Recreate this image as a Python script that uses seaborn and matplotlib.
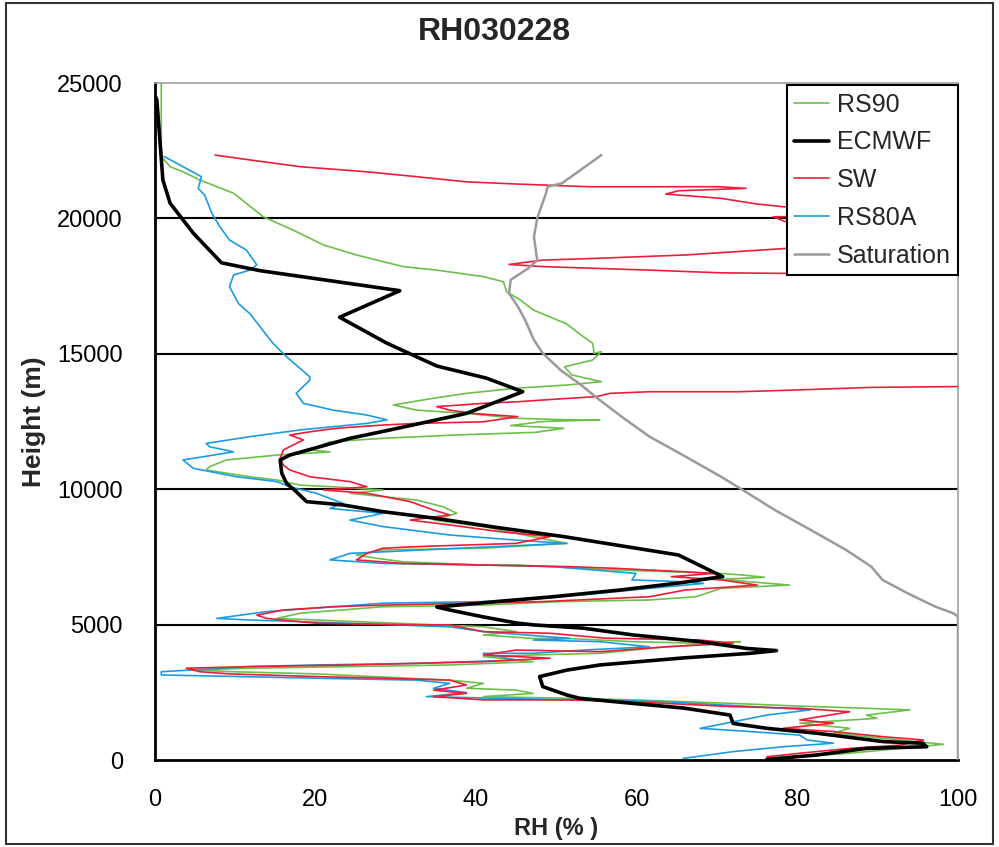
import matplotlib
matplotlib.use("Agg")
import matplotlib.pyplot as plt
import seaborn as sns
import pandas as pd
from matplotlib.patches import Rectangle
from matplotlib.lines import Line2D

# ---------------- data (RH %, height m) ----------------
rs90_rh = [0.8, 0.8, 1.0, 1.9, 3.5, 5.6, 9.8, 13.5, 17.2, 21.0, 25.1, 30.9, 35.1, 40.9, 43.4, 43.8, 45.5, 47.1,
           51.3, 52.8, 54.5, 54.7, 55.6, 54.5, 51.0, 51.9, 55.6, 51.4, 45.0, 38.8, 34.7, 29.7, 32.6, 38.8, 45.0,
           51.7, 55.4, 48.3, 44.3, 50.9, 47.4, 37.2, 28.4, 21.8, 19.3, 21.8, 15.2, 8.9, 6.8, 6.4, 11.8, 15.2,
           18.1, 22.2, 28.4, 24.3, 32.6, 35.9, 37.6, 34.7, 40.9, 45.0, 51.3, 40.9, 28.4, 25.1, 27.6, 30.9, 40.9,
           45.2, 57.2, 70.5, 73.2, 75.9, 70.5, 79.0, 70.5, 67.4, 61.6, 50.5, 40.9, 28.4, 18.1, 15.2, 20.1, 32.6,
           40.9, 45.0, 40.9, 47.1, 51.3, 59.5, 67.9, 72.9, 63.7, 55.4, 47.1, 40.9, 47.1, 36.7, 24.3, 11.8, 4.8,
           9.8, 20.1, 36.7, 40.9, 38.8, 45.0, 47.1, 40.9, 51.7, 59.5, 72.0, 80.3, 88.6, 94.0, 88.6, 89.9, 80.3,
           86.5, 84.5, 90.7, 98.2, 92.8, 86.5, 80.3, 76.2]
rs90_h = [25000, 22530, 22220, 21910, 21720, 21420, 20930, 20060, 19570, 19020, 18650, 18220, 18090, 17850, 17660,
          17290, 16990, 16620, 16100, 15750, 15390, 15020, 15080, 14770, 14520, 14220, 13970, 13850, 13730, 13540,
          13360, 13110, 12920, 12800, 12620, 12560, 12560, 12500, 12350, 12250, 12100, 12000, 11880, 11750, 11450,
          11380, 11260, 11080, 10830, 10710, 10460, 10340, 10150, 10090, 9970, 9850, 9600, 9350, 9110, 8860, 8620,
          8370, 8000, 7820, 7760, 7570, 7450, 7320, 7200, 7200, 7020, 6890, 6830, 6750, 6670, 6460, 6340, 6030,
          5910, 5850, 5720, 5660, 5420, 5230, 5170, 5020, 4920, 4740, 4620, 4490, 4490, 4370, 4310, 4370, 4180,
          3940, 3880, 3820, 3630, 3510, 3450, 3390, 3320, 3260, 3180, 2950, 2830, 2650, 2580, 2460, 2340, 2280,
          2220, 2090, 1990, 1910, 1850, 1660, 1540, 1360, 1170, 990, 800, 580, 430, 250, 120, 25]

ecmwf_rh = [0.1, 0.25, 1.0, 1.9, 4.8, 8.3, 13.1, 30.5, 23.0, 28.9, 35.1, 41.3, 45.8, 38.8, 29.3, 24.3, 16.8, 15.6,
            15.8, 16.4, 17.6, 18.9, 23.4, 28.4, 34.6, 43.0, 50.9, 65.2, 70.7, 69.2, 65.6, 58.0, 49.6, 42.5, 35.1,
            36.7, 40.8, 45.0, 47.1, 53.3, 59.5, 67.9, 73.7, 77.4, 74.1, 65.8, 55.4, 51.3, 47.9, 48.3, 51.3, 52.9,
            59.5, 65.8, 71.6, 72.0, 76.2, 82.4, 90.7, 95.6, 96.1, 88.6, 82.4, 76.2]
ecmwf_h = [24480, 24370, 21420, 20560, 19450, 18360, 18070, 17330, 16350, 15390, 14550, 14100, 13600, 12800, 12190,
           11880, 11260, 11080, 10590, 10220, 9910, 9540, 9420, 9170, 8940, 8570, 8250, 7570, 6770, 6710, 6550, 6280,
           6030, 5850, 5650, 5540, 5290, 5060, 4990, 4870, 4620, 4370, 4120, 4040, 3940, 3770, 3510, 3320, 3080,
           2710, 2400, 2280, 2090, 1920, 1660, 1350, 1170, 990, 680, 620, 490, 430, 185, 25]

sw_rh = [7.5, 11.8, 18.1, 26.4, 32.6, 38.8, 45.0, 54.0, 70.1, 73.6, 65.2, 63.6, 70.5, 75.0, 78.3, 110, 110, 77.0,
         78.5, 110, 110, 78.5, 66.1, 55.4, 48.3, 44.1, 48.3, 61.6, 70.5, 78.5, 110, 110, 99.9, 89.2, 79.4, 72.8,
         61.6, 56.7, 55.0, 49.6, 45.2, 40.9, 35.1, 36.7, 39.6, 45.2, 40.9, 32.6, 28.4, 22.6, 19.3, 16.8, 18.5,
         17.6, 16.0, 15.6, 16.0, 16.8, 19.3, 24.3, 26.4, 21.0, 26.4, 31.8, 34.7, 36.7, 31.8, 36.7, 43.0, 49.2,
         45.0, 32.6, 28.4, 26.4, 25.1, 30.9, 40.9, 51.7, 57.2, 66.1, 69.6, 64.3, 70.5, 75.0, 66.1, 61.6, 48.3,
         39.4, 28.4, 22.2, 16.0, 12.7, 13.9, 20.1, 32.6, 36.7, 40.9, 49.2, 56.0, 67.9, 72.0, 63.7, 55.4, 45.0,
         40.9, 49.2, 40.9, 24.3, 11.8, 3.9, 5.6, 9.3, 20.1, 28.4, 36.7, 38.8, 34.7, 38.8, 34.7, 40.9, 51.3,
         59.5, 72.0, 80.3, 86.5, 80.3, 84.5, 78.2, 84.5, 90.7, 95.7, 92.8, 86.5, 80.3, 76.2]
sw_h = [22340, 22160, 21910, 21720, 21540, 21350, 21270, 21170, 21170, 21110, 21020, 20900, 20740, 20530, 20430,
        20300, 20150, 20060, 19880, 19700, 19000, 18890, 18650, 18530, 18460, 18300, 18220, 18090, 17990, 17970,
        17900, 13850, 13790, 13760, 13660, 13600, 13600, 13540, 13420, 13320, 13230, 13170, 13050, 12920, 12800,
        12680, 12490, 12430, 12370, 12250, 12120, 12000, 11820, 11690, 11450, 11140, 10890, 10710, 10460, 10280,
        10090, 9970, 9850, 9540, 9230, 9050, 8860, 8680, 8430, 8250, 8000, 7880, 7820, 7630, 7390, 7260, 7200,
        7140, 7080, 6950, 6890, 6770, 6650, 6460, 6280, 6030, 5850, 5790, 5720, 5660, 5540, 5350, 5230, 5050,
        4990, 4990, 4740, 4680, 4500, 4430, 4310, 4180, 4000, 4060, 3880, 3760, 3630, 3510, 3450, 3390, 3260,
        3180, 3080, 3020, 2950, 2770, 2580, 2460, 2340, 2220, 2220, 2150, 1970, 1910, 1780, 1480, 1360, 1170,
        1050, 860, 740, 550, 430, 250, 120]

rs80a_rh = [1.2, 3.5, 5.8, 5.4, 6.2, 7.1, 8.1, 9.3, 11.4, 12.7, 11.8, 9.8, 9.3, 10.4, 11.8, 13.1, 14.7, 16.4, 19.3,
            19.3, 17.6, 18.5, 22.2, 26.4, 28.9, 26.4, 18.1, 11.8, 6.4, 6.8, 9.8, 3.5, 4.8, 10.2, 15.2, 16.8, 20.1,
            23.4, 21.8, 28.4, 24.3, 28.4, 36.7, 45.0, 51.3, 40.0, 24.3, 21.8, 28.4, 40.9, 49.6, 59.9, 59.4, 66.1,
            68.3, 61.6, 55.4, 48.3, 40.9, 28.4, 13.9, 7.7, 11.8, 24.3, 36.7, 40.9, 51.7, 47.1, 55.4, 61.6, 53.3,
            47.1, 40.9, 45.0, 32.6, 20.1, 11.8, 0.8, 0.8, 7.7, 20.1, 32.6, 36.7, 34.7, 38.8, 33.8, 51.7, 55.4,
            63.7, 78.2, 81.6, 76.2, 72.0, 67.9, 74.1, 80.3, 81.2, 84.5, 78.2, 72.0, 65.8]
rs80a_h = [22280, 21910, 21540, 21110, 20860, 20190, 19690, 19200, 18830, 18280, 18090, 17910, 17480, 16860, 16490,
           16000, 15390, 14890, 14150, 14030, 13540, 13170, 12920, 12740, 12560, 12430, 12190, 11940, 11690, 11570,
           11380, 11080, 10770, 10460, 10280, 10090, 9850, 9480, 9290, 9110, 8860, 8620, 8310, 8120, 8000, 7850,
           7630, 7390, 7260, 7200, 7140, 6890, 6650, 6580, 6520, 6340, 6160, 5970, 5850, 5790, 5480, 5230, 5170,
           5050, 4920, 4740, 4490, 4430, 4370, 4180, 4060, 3940, 3940, 3690, 3570, 3510, 3450, 3260, 3140, 3100,
           3020, 2950, 2830, 2650, 2490, 2340, 2220, 2220, 2150, 1910, 1850, 1660, 1410, 1170, 1050, 920, 740,
           620, 490, 310, 60]

sat_rh = [55.6, 50.7, 48.9, 48.7, 47.6, 47.2, 47.6, 46.5, 44.3, 44.1, 45.2, 46.1, 47.2, 48.3, 50.5, 52.8, 55.4,
          58.1, 61.6, 66.1, 70.5, 73.2, 77.2, 81.7, 86.1, 89.2, 90.6, 93.7, 97.2, 99.4, 100, 100]
sat_h = [22340, 21300, 21170, 20930, 20000, 19320, 18460, 18160, 17730, 17230, 16740, 16250, 15510, 15020, 14400,
         13910, 13290, 12680, 11940, 11200, 10460, 9970, 9230, 8490, 7750, 7140, 6650, 6160, 5660, 5420, 5300, 0]

series_names = ["RS90", "ECMWF", "SW", "RS80A", "Saturation"]
x_ticks = [0, 20, 40, 60, 80, 100]
y_ticks = [0, 5000, 10000, 15000, 20000, 25000]

# ---------------- figure ----------------
sns.set_style("white")
plt.rcParams["font.family"] = ["Liberation Sans", "DejaVu Sans"]

fig = plt.figure(figsize=(9.99, 8.47), dpi=100)
ax = fig.add_axes([0.155, 0.1027, 0.804, 0.7993])

styles = {
    "RS90": dict(color="#6cc04a", lw=1.2, zorder=3),
    "ECMWF": dict(color="#000000", lw=2.6, zorder=6),
    "SW": dict(color="#ee1c3a", lw=1.2, zorder=4),
    "RS80A": dict(color="#1c9ce0", lw=1.2, zorder=3.5),
    "Saturation": dict(color="#9a9a9a", lw=1.8, zorder=5),
}
data = {
    "RS90": (rs90_rh, rs90_h),
    "ECMWF": (ecmwf_rh, ecmwf_h),
    "SW": (sw_rh, sw_h),
    "RS80A": (rs80a_rh, rs80a_h),
    "Saturation": (sat_rh, sat_h),
}
for name in series_names:
    rh, h = data[name]
    df = pd.DataFrame({"RH": rh, "Height": h})
    st = styles[name]
    sns.lineplot(data=df, x="RH", y="Height", sort=False, estimator=None, ax=ax,
                 color=st["color"], linewidth=st["lw"], zorder=st["zorder"], legend=False)

ax.set_xlim(0, 100)
ax.set_ylim(0, 25000)
ax.set_xticks(x_ticks)
ax.set_yticks(y_ticks)
ax.set_xticklabels([str(v) for v in x_ticks], fontsize=17)
ax.set_yticklabels([str(v) for v in y_ticks], fontsize=17)
ax.tick_params(axis="x", direction="out", length=8, width=1.5, pad=13, colors="black")
ax.tick_params(axis="y", direction="out", length=6, width=1.5, pad=17, colors="black")

for y in y_ticks[1:-1]:
    ax.axhline(y, color="black", lw=1.5, zorder=1)

for s in ["left", "bottom"]:
    ax.spines[s].set_color("black")
    ax.spines[s].set_linewidth(2)
for s in ["top", "right"]:
    ax.spines[s].set_color("#a0a0a0")
    ax.spines[s].set_linewidth(1.2)
    ax.spines[s].set_linestyle((0, (2, 1)))

ax.set_xlabel("RH (% )", fontsize=17, fontweight="bold", labelpad=4)
ax.set_ylabel("Height (m)", fontsize=19, fontweight="bold", labelpad=8)

fig.text(0.495, 0.962, "RH030228", ha="center", va="center", fontsize=23, fontweight="bold")

handles = [Line2D([0], [0], color=styles[n]["color"], lw=styles[n]["lw"]) for n in series_names]
leg = ax.legend(handles, series_names, loc="upper right", bbox_to_anchor=(1.0, 0.997),
                borderaxespad=0, frameon=True, fancybox=False, fontsize=18, framealpha=1.0,
                handlelength=1.4, handletextpad=0.3, labelspacing=0.55, borderpad=0.3)
leg.get_frame().set_edgecolor("black")
leg.get_frame().set_linewidth(1.5)
leg.set_zorder(10)

fig.patches.append(Rectangle((0.006, 0.003), 0.988, 0.994, transform=fig.transFigure,
                             fill=False, edgecolor="#333333", linewidth=1.5))

fig.savefig("out.png", dpi=100)
